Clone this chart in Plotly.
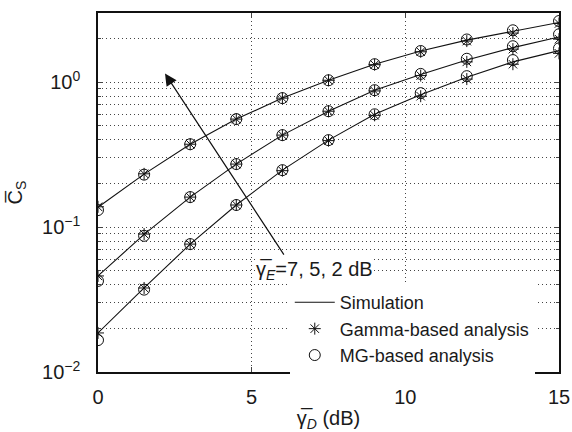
import plotly.graph_objects as go

x = [0, 1.5, 3, 4.5, 6, 7.5, 9, 10.5, 12, 13.5, 15]

# Simulation curves (gamma_E = 2, 5, 7 dB from top to bottom)
sim_top = [0.137, 0.232, 0.373, 0.556, 0.776, 1.03, 1.33, 1.64, 1.95, 2.25, 2.58]
sim_mid = [0.046, 0.089, 0.161, 0.272, 0.431, 0.63, 0.88, 1.13, 1.42, 1.73, 2.05]
sim_bot = [0.0186, 0.038, 0.0763, 0.142, 0.247, 0.398, 0.60, 0.82, 1.08, 1.38, 1.65]

gamma_top = [0.138, 0.233, 0.373, 0.556, 0.776, 1.03, 1.32, 1.62, 1.92, 2.18, 2.54]
gamma_mid = [0.046, 0.0895, 0.161, 0.272, 0.431, 0.63, 0.87, 1.11, 1.38, 1.69, 1.98]
gamma_bot = [0.0186, 0.038, 0.0763, 0.142, 0.245, 0.395, 0.59, 0.80, 1.05, 1.33, 1.58]

mg_top = [0.131, 0.230, 0.373, 0.556, 0.776, 1.03, 1.33, 1.64, 1.97, 2.28, 2.64]
mg_mid = [0.0425, 0.087, 0.161, 0.272, 0.431, 0.63, 0.88, 1.14, 1.45, 1.77, 2.14]
mg_bot = [0.0166, 0.037, 0.0763, 0.142, 0.247, 0.398, 0.60, 0.84, 1.10, 1.42, 1.71]

y_ticks = [0.01, 0.1, 1]
y_ticktext = ["10<sup>−2</sup>", "10<sup>−1</sup>", "10<sup>0</sup>"]
x_ticks = [0, 5, 10, 15]
y_minor = [m * 10 ** e for e in (-2, -1, 0) for m in range(2, 10) if m * 10 ** e <= 3]

FONT = "Liberation Sans, Arial, sans-serif"
TXT = "#1a1a1a"
GRID = "#444"
DOT = "1px,3px"

fig = go.Figure()
sims = [sim_top, sim_mid, sim_bot]
gams = [gamma_top, gamma_mid, gamma_bot]
mgs = [mg_top, mg_mid, mg_bot]
for i in range(3):
    fig.add_trace(go.Scatter(x=x, y=sims[i], mode="lines", name="Simulation",
                             line=dict(color="#111", width=1.1), showlegend=(i == 0)))
for i in range(3):
    fig.add_trace(go.Scatter(x=x, y=gams[i], mode="markers", name="Gamma-based analysis",
                             marker=dict(symbol="asterisk-open", size=10, color="#111",
                                         line=dict(color="#111", width=1)),
                             showlegend=(i == 0)))
for i in range(3):
    fig.add_trace(go.Scatter(x=x, y=mgs[i], mode="markers", name="MG-based analysis",
                             marker=dict(symbol="circle-open", size=11, color="#111",
                                         line=dict(color="#111", width=1)),
                             showlegend=(i == 0)))

fig.add_annotation(x=2.18, y=0.06, ax=6.08, ay=-1.2, xref="x", yref="y",
                   axref="x", ayref="y", showarrow=True, arrowhead=2, arrowsize=2,
                   arrowwidth=1.2, arrowcolor="#111", text="")
fig.add_annotation(x=7.06, y=-1.297, xref="x", yref="y", showarrow=False,
                   text="γ\u0305<sub><i>E</i></sub>=7, 5, 2 dB",
                   font=dict(family=FONT, size=20, color=TXT),
                   bgcolor="white", borderpad=0)

fig.update_layout(
    width=572, height=432,
    margin=dict(l=98, r=13, t=13, b=60),
    plot_bgcolor="white", paper_bgcolor="white",
    font=dict(family=FONT, size=20, color=TXT),
    legend=dict(x=0.416, y=0.245, xanchor="left", yanchor="top",
                bgcolor="white", borderwidth=0,
                font=dict(family=FONT, size=18, color=TXT),
                tracegroupgap=0, itemwidth=40),
    xaxis=dict(range=[0, 15], tickvals=x_ticks, ticks="inside", ticklen=5,
               ticklabelstandoff=6, automargin=False,
               showline=True, linecolor="#111", linewidth=1.5, mirror="ticks",
               showgrid=True, gridcolor=GRID, griddash=DOT, gridwidth=1,
               zeroline=False,
               title=dict(text="γ\u0305<sub><i>D</i></sub> (dB)", standoff=4,
                          font=dict(family=FONT, size=20, color=TXT))),
    yaxis=dict(type="log", range=[-2, 0.4771], tickvals=y_ticks, ticktext=y_ticktext,
               ticks="inside", ticklen=5, ticklabelstandoff=12, automargin=False,
               showline=True, linecolor="#111", linewidth=1.5, mirror="ticks",
               showgrid=True, gridcolor=GRID, griddash=DOT, gridwidth=1,
               minor=dict(tickvals=y_minor, ticks="inside", ticklen=3, showgrid=True,
                          gridcolor=GRID, griddash=DOT, gridwidth=1),
               title=dict(text="C\u0305<sub>S</sub>", standoff=14,
                          font=dict(family=FONT, size=20, color=TXT))),
)

fig.write_html("out.html")
